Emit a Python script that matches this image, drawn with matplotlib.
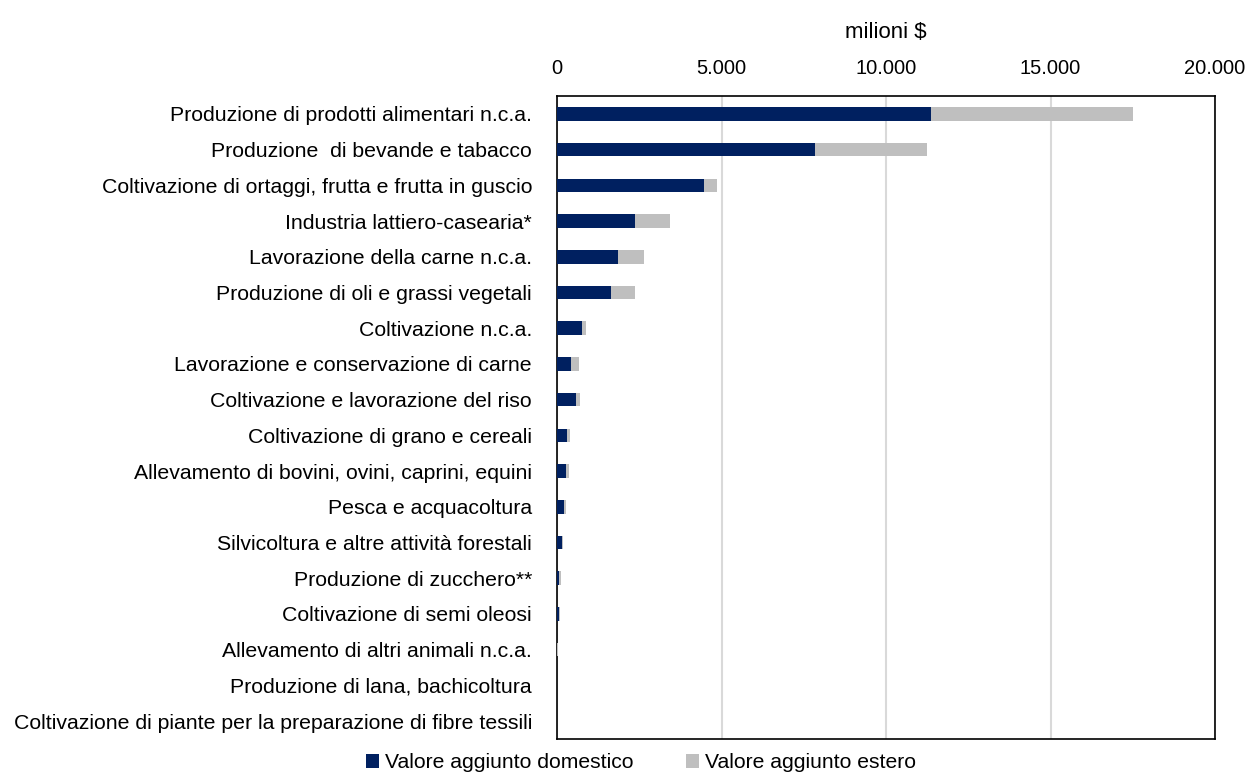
import matplotlib.pyplot as plt
from matplotlib.ticker import FuncFormatter

plt.rcParams['font.family'] = ['Liberation Sans', 'DejaVu Sans']

categories = [
    "Produzione di prodotti alimentari n.c.a.",
    "Produzione  di bevande e tabacco",
    "Coltivazione di ortaggi, frutta e frutta in guscio",
    "Industria lattiero-casearia*",
    "Lavorazione della carne n.c.a.",
    "Produzione di oli e grassi vegetali",
    "Coltivazione n.c.a.",
    "Lavorazione e conservazione di carne",
    "Coltivazione e lavorazione del riso",
    "Coltivazione di grano e cereali",
    "Allevamento di bovini, ovini, caprini, equini",
    "Pesca e acquacoltura",
    "Silvicoltura e altre attività forestali",
    "Produzione di zucchero**",
    "Coltivazione di semi oleosi",
    "Allevamento di altri animali n.c.a.",
    "Produzione di lana, bachicoltura",
    "Coltivazione di piante per la preparazione di fibre tessili",
]
domestico = [11370, 7840, 4470, 2370, 1850, 1640, 760, 425, 590, 300, 275, 220, 150, 60, 70, 12, 6, 3]
totale = [17510, 11250, 4860, 3430, 2640, 2370, 870, 680, 690, 395, 365, 265, 190, 110, 95, 18, 9, 4]
estero = [t - d for t, d in zip(totale, domestico)]

navy = '#002060'
grigio = '#BFBFBF'

fig = plt.figure(figsize=(12.5, 7.76), dpi=100)
ax = fig.add_axes([0.4456, 0.0477, 0.5264, 0.8286])

y = range(len(categories))
ax.barh(y, domestico, height=0.38, color=navy, label='Valore aggiunto domestico', zorder=3)
ax.barh(y, estero, left=domestico, height=0.38, color=grigio, label='Valore aggiunto estero', zorder=3)

ax.set_xlim(0, 20000)
ax.set_ylim(len(categories) - 0.5, -0.5)
ax.set_xticks([0, 5000, 10000, 15000, 20000])
ax.xaxis.set_major_formatter(FuncFormatter(lambda v, p: f"{int(v):,}".replace(',', '.')))
ax.xaxis.tick_top()
ax.xaxis.set_label_position('top')
ax.set_xlabel('milioni $', fontsize=16, labelpad=15)
ax.set_yticks(list(y))
ax.set_yticklabels(categories, fontsize=15.3)
ax.tick_params(axis='x', length=0, labelsize=14.5, pad=13)
ax.tick_params(axis='y', length=0, pad=18)
ax.grid(axis='x', color='#D9D9D9', linewidth=1.5, zorder=0)
for s in ax.spines.values():
    s.set_color('black')
    s.set_linewidth(1.2)

fig.legend(loc='center', bbox_to_anchor=(0.513, 0.017), ncol=2, frameon=False,
           fontsize=15.2, handlelength=0.6, handleheight=0.6, handletextpad=0.3,
           columnspacing=2.5)

fig.savefig('out.png', dpi=100)
